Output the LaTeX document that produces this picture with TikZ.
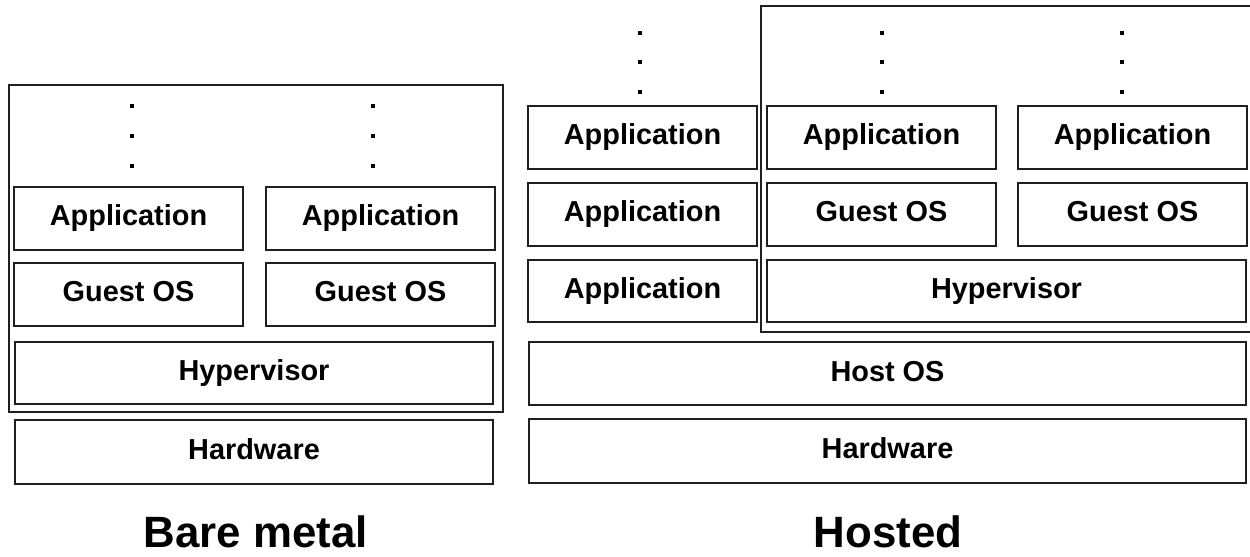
\documentclass[tikz,border=0pt]{standalone}
\usepackage{fontspec}
\setmainfont{Liberation Sans}
\begin{document}
\begin{tikzpicture}[x=1bp,y=-1bp,
  layer/.style={draw=black!88,line width=2bp,inner sep=0pt,font=\fontsize{29}{34}\selectfont\bfseries,
    text height=21bp,text depth=6bp},
  frame/.style={draw=black!88,line width=2bp},
  vdot/.style={fill=black,inner sep=0pt,minimum size=3.4bp,rectangle},
  title/.style={font=\fontsize{44}{52}\selectfont\bfseries,anchor=base,inner sep=0pt,text depth=0pt}]
\useasboundingbox (0,0) rectangle (1250,557);
% box helper: name, x1,y1,x2,y2, text
\newcommand{\lbox}[6]{\node[layer,minimum width={#4-#2},minimum height={#5-#3}] (#1) at ({(#2+#4)/2},{(#3+#5)/2}) {#6};}
% ---------- Bare metal ----------
\node[frame,inner sep=0pt,minimum width=494bp,minimum height=327bp] (bmframe) at (256,248.5) {};
\lbox{bmappL}{14}{187}{243}{250}{Application}
\lbox{bmappR}{266}{187}{495}{250}{Application}
\lbox{bmgosL}{14}{263}{243}{326}{Guest OS}
\lbox{bmgosR}{266}{263}{495}{326}{Guest OS}
\lbox{bmhyp}{14}{342}{494}{404}{Hypervisor}
\lbox{bmhw}{14}{420}{494}{484}{Hardware}
\foreach \y [count=\i] in {106,136,166}{
  \node[vdot] (bmdL\i) at (132,\y) {};
  \node[vdot] (bmdR\i) at (373,\y) {};
}
\node[title] (bmtitle) at (256,547) {Bare metal};
% ---------- Hosted ----------
\coordinate (hfA) at (1252,6);
\coordinate (hfB) at (761,6);
\coordinate (hfC) at (761,332);
\coordinate (hfD) at (1252,332);
\draw[frame] (hfA) -- (hfB) -- (hfC) -- (hfD);
\lbox{happ1}{528}{106}{757}{169}{Application}
\lbox{happ2}{528}{183}{757}{246}{Application}
\lbox{happ3}{528}{260}{757}{322}{Application}
\lbox{hiapp1}{767}{106}{996}{169}{Application}
\lbox{hiapp2}{1018}{106}{1247}{169}{Application}
\lbox{higos1}{767}{183}{996}{246}{Guest OS}
\lbox{higos2}{1018}{183}{1247}{246}{Guest OS}
\lbox{hhyp}{766}{260}{1247}{322}{Hypervisor}
\lbox{hhost}{528}{342}{1247}{405}{Host OS}
\lbox{hhw}{528}{419}{1247}{483}{Hardware}
\foreach \y [count=\i] in {33,62,92}{
  \node[vdot] (hdA\i) at (640,\y) {};
  \node[vdot] (hdB\i) at (882,\y) {};
  \node[vdot] (hdC\i) at (1122,\y) {};
}
\node[title] (htitle) at (888,547) {Hosted};
\end{tikzpicture}
\end{document}
